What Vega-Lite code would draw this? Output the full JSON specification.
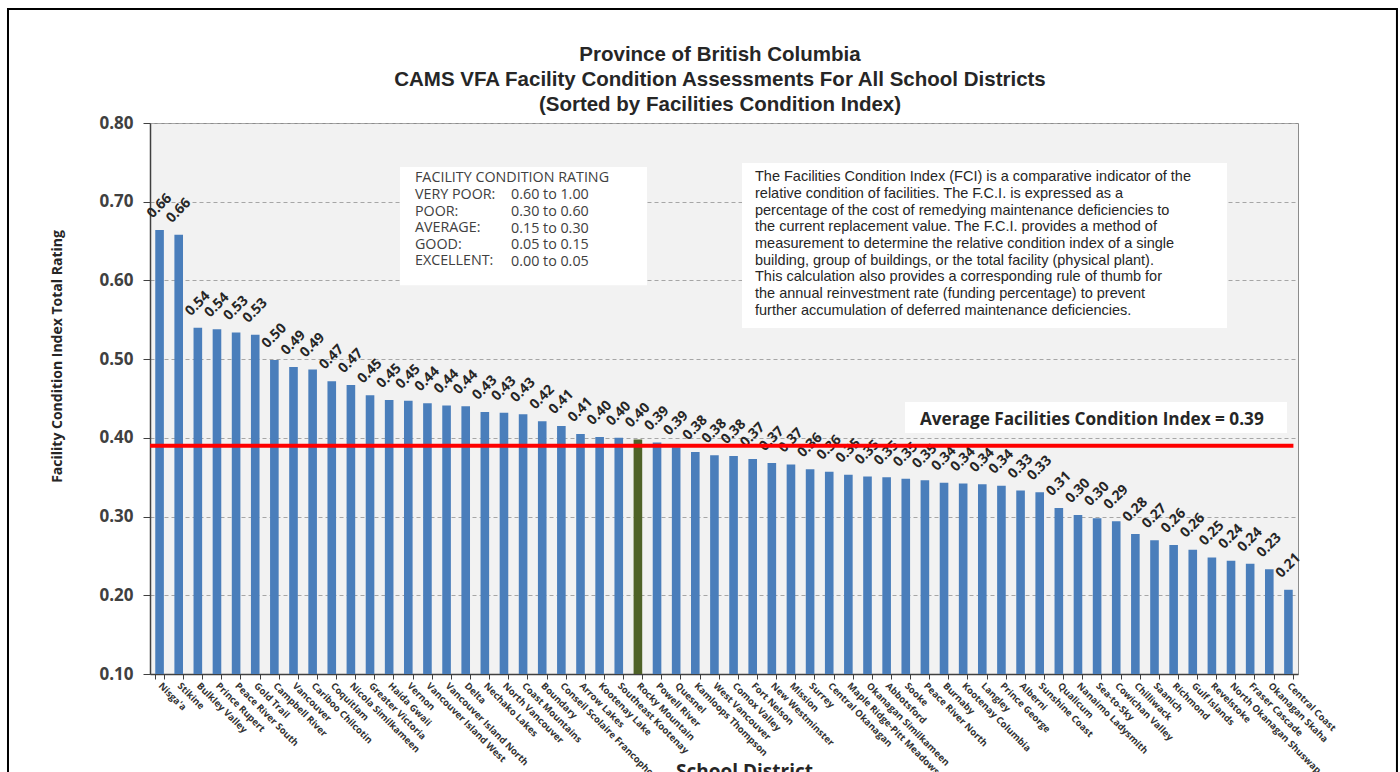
{
  "$schema": "https://vega.github.io/schema/vega-lite/v6.json",
  "autosize": {"type": "none"},
  "width": 1148,
  "height": 551,
  "padding": {"left": 150, "top": 123, "right": 102, "bottom": 98},
  "background": "white",
  "config": {
    "font": "Open Sans",
    "view": {"fill": "#f2f2f2", "stroke": "#8c8c8c", "strokeWidth": 1}
  },
  "datasets": {
    "fci": [
      {"district": "Nisga'a", "fci": 0.664},
      {"district": "Stikine", "fci": 0.658},
      {"district": "Bulkley Valley", "fci": 0.540},
      {"district": "Prince Rupert", "fci": 0.538},
      {"district": "Peace River South", "fci": 0.534},
      {"district": "Gold Trail", "fci": 0.531},
      {"district": "Campbell River", "fci": 0.499},
      {"district": "Vancouver", "fci": 0.490},
      {"district": "Cariboo Chilcotin", "fci": 0.487},
      {"district": "Coquitlam", "fci": 0.472},
      {"district": "Nicola Similkameen", "fci": 0.467},
      {"district": "Greater Victoria", "fci": 0.454},
      {"district": "Haida Gwaii", "fci": 0.448},
      {"district": "Vernon", "fci": 0.447},
      {"district": "Vancouver Island West", "fci": 0.444},
      {"district": "Vancouver Island North", "fci": 0.441},
      {"district": "Delta", "fci": 0.440},
      {"district": "Nechako Lakes", "fci": 0.433},
      {"district": "North Vancouver", "fci": 0.432},
      {"district": "Coast Mountains", "fci": 0.430},
      {"district": "Boundary", "fci": 0.421},
      {"district": "Conseil Scolaire Francophone", "fci": 0.415},
      {"district": "Arrow Lakes", "fci": 0.405},
      {"district": "Kootenay Lake", "fci": 0.401},
      {"district": "Southeast Kootenay", "fci": 0.400},
      {"district": "Rocky Mountain", "fci": 0.398},
      {"district": "Powell River", "fci": 0.394},
      {"district": "Quesnel", "fci": 0.388},
      {"district": "Kamloops Thompson", "fci": 0.382},
      {"district": "West Vancouver", "fci": 0.378},
      {"district": "Comox Valley", "fci": 0.377},
      {"district": "Fort Nelson", "fci": 0.373},
      {"district": "New Westminster", "fci": 0.368},
      {"district": "Mission", "fci": 0.366},
      {"district": "Surrey", "fci": 0.360},
      {"district": "Central Okanagan", "fci": 0.357},
      {"district": "Maple Ridge-Pitt Meadows", "fci": 0.353},
      {"district": "Okanagan Similkameen", "fci": 0.351},
      {"district": "Abbotsford", "fci": 0.350},
      {"district": "Sooke", "fci": 0.348},
      {"district": "Peace River North", "fci": 0.346},
      {"district": "Burnaby", "fci": 0.343},
      {"district": "Kootenay Columbia", "fci": 0.342},
      {"district": "Langley", "fci": 0.341},
      {"district": "Prince George", "fci": 0.339},
      {"district": "Alberni", "fci": 0.333},
      {"district": "Sunshine Coast", "fci": 0.331},
      {"district": "Qualicum", "fci": 0.311},
      {"district": "Nanaimo Ladysmith", "fci": 0.302},
      {"district": "Sea-to-Sky", "fci": 0.298},
      {"district": "Cowichan Valley", "fci": 0.294},
      {"district": "Chilliwack", "fci": 0.278},
      {"district": "Saanich", "fci": 0.270},
      {"district": "Richmond", "fci": 0.264},
      {"district": "Gulf Islands", "fci": 0.258},
      {"district": "Revelstoke", "fci": 0.248},
      {"district": "North Okanagan Shuswap", "fci": 0.244},
      {"district": "Fraser Cascade", "fci": 0.240},
      {"district": "Okanagan Skaha", "fci": 0.233},
      {"district": "Central Coast", "fci": 0.207}
    ],
    "note": [{"k": 1}]
  },
  "resolve": {"scale": {"x": "independent"}, "axis": {"x": "independent"}},
  "layer": [
    {
      "data": {"name": "fci"},
      "layer": [
        {
          "mark": {"type": "bar"},
          "encoding": {
            "x": {
              "field": "district", "type": "nominal", "sort": null,
              "scale": {"paddingInner": 0.55, "paddingOuter": 0.275},
              "axis": {
                "title": "School District", "titleFont": "Open Sans", "titleFontSize": 19, "titleFontWeight": "bold", "titleColor": "#262626",
                "titleX": 594, "titleY": 88, "titleBaseline": "top", "titleAnchor": "middle", "titleAlign": "center",
                "labelAngle": 45, "labelAlign": "left", "labelBaseline": "middle", "labelPadding": 5,
                "labelFont": "Open Sans", "labelFontSize": 9.5, "labelFontWeight": "bold", "labelColor": "#333333",
                "labelOverlap": false, "labelLimit": 300,
                "tickBand": "extent", "tickSize": 5, "tickColor": "#404040",
                "domainColor": "#404040", "domainWidth": 1.5
              }
            },
            "y": {
              "field": "fci", "type": "quantitative",
              "scale": {"domain": [0.1, 0.8], "zero": false, "nice": false},
              "axis": {
                "title": "Facility Condition Index Total Rating", "titleFont": "Open Sans", "titleFontSize": 14, "titleFontWeight": "bold", "titleColor": "#262626",
                "titlePadding": 34, "titleY": 233, "titleAlign": "center",
                "values": [0.1, 0.2, 0.3, 0.4, 0.5, 0.6, 0.7, 0.8], "format": ".2f",
                "labelFont": "Open Sans", "labelFontSize": 17, "labelFontWeight": "bold", "labelColor": "#404040", "labelPadding": 10,
                "tickSize": 7, "tickColor": "#404040", "domainColor": "#404040", "domainWidth": 1.5,
                "grid": true, "gridColor": "#a6a6a6", "gridDash": [4, 3], "gridWidth": 1
              }
            },
            "y2": {"datum": 0.1},
            "color": {
              "condition": {"test": "datum.district === 'Rocky Mountain'", "value": "#4f6228"},
              "value": "#4a7ebb"
            }
          }
        },
        {
          "mark": {"type": "text", "angle": 315, "align": "center", "baseline": "middle", "radius": 24, "theta": 0, "font": "Open Sans", "fontSize": 14, "fontWeight": "bold", "color": "#262626"},
          "encoding": {
            "x": {"field": "district", "type": "nominal", "sort": null},
            "y": {"field": "fci", "type": "quantitative", "scale": {"domain": [0.1, 0.8]}},
            "text": {"field": "fci", "type": "quantitative", "format": ".2f"}
          }
        }
      ]
    },
    {
      "data": {"name": "note"},
      "layer": [
        {
          "mark": {"type": "rule", "color": "#ff0000", "strokeWidth": 4},
          "encoding": {
            "x": {"datum": 0, "type": "quantitative", "scale": {"domain": [0, 1]}, "axis": null},
            "x2": {"datum": 0.996},
            "y": {"datum": 0.39, "type": "quantitative", "scale": {"domain": [0.1, 0.8]}}
          }
        },
        {
          "mark": {"type": "rect", "fill": "white"},
          "encoding": {
            "x": {"datum": 0.2178, "type": "quantitative", "scale": {"domain": [0, 1]}, "axis": null},
            "x2": {"datum": 0.4329},
            "y": {"datum": 0.744, "type": "quantitative", "scale": {"domain": [0.1, 0.8]}},
            "y2": {"datum": 0.594}
          }
        },
        {
          "mark": {"type": "text", "align": "left", "baseline": "top", "font": "Open Sans", "fontSize": 14.3, "lineHeight": 16.6, "color": "#404040",
            "text": ["FACILITY CONDITION RATING", "VERY POOR:", "POOR:", "AVERAGE:", "GOOD:", "EXCELLENT:"]},
          "encoding": {
            "x": {"datum": 0.2308, "type": "quantitative", "scale": {"domain": [0, 1]}, "axis": null},
            "y": {"datum": 0.7385, "type": "quantitative", "scale": {"domain": [0.1, 0.8]}}
          }
        },
        {
          "mark": {"type": "text", "align": "left", "baseline": "top", "font": "Open Sans", "fontSize": 14.3, "lineHeight": 16.6, "color": "#404040",
            "text": ["0.60 to 1.00", "0.30 to 0.60", "0.15 to 0.30", "0.05 to 0.15", "0.00 to 0.05"]},
          "encoding": {
            "x": {"datum": 0.3145, "type": "quantitative", "scale": {"domain": [0, 1]}, "axis": null},
            "y": {"datum": 0.7169, "type": "quantitative", "scale": {"domain": [0.1, 0.8]}}
          }
        },
        {
          "mark": {"type": "rect", "fill": "white"},
          "encoding": {
            "x": {"datum": 0.5157, "type": "quantitative", "scale": {"domain": [0, 1]}, "axis": null},
            "x2": {"datum": 0.9382},
            "y": {"datum": 0.7492, "type": "quantitative", "scale": {"domain": [0.1, 0.8]}},
            "y2": {"datum": 0.5395}
          }
        },
        {
          "mark": {"type": "text", "align": "left", "baseline": "top", "font": "Liberation Sans", "fontSize": 14.5, "lineHeight": 16.7, "color": "#262626",
            "text": [
              "The Facilities Condition Index (FCI) is a comparative indicator of the",
              "relative condition of facilities. The F.C.I. is expressed as a",
              "percentage of the cost of remedying maintenance deficiencies to",
              "the current replacement value. The F.C.I. provides a method of",
              "measurement to determine the relative condition index of a single",
              "building, group of buildings, or the total facility (physical plant).",
              "This calculation also provides a corresponding rule of thumb for",
              "the annual reinvestment rate (funding percentage) to prevent",
              "further accumulation of deferred maintenance deficiencies."
            ]},
          "encoding": {
            "x": {"datum": 0.527, "type": "quantitative", "scale": {"domain": [0, 1]}, "axis": null},
            "y": {"datum": 0.740, "type": "quantitative", "scale": {"domain": [0.1, 0.8]}}
          }
        },
        {
          "mark": {"type": "rect", "fill": "white"},
          "encoding": {
            "x": {"datum": 0.6577, "type": "quantitative", "scale": {"domain": [0, 1]}, "axis": null},
            "x2": {"datum": 0.9904},
            "y": {"datum": 0.4455, "type": "quantitative", "scale": {"domain": [0.1, 0.8]}},
            "y2": {"datum": 0.4061}
          }
        },
        {
          "mark": {"type": "text", "align": "left", "baseline": "middle", "font": "Open Sans", "fontSize": 17.2, "fontWeight": "bold", "color": "#262626",
            "text": "Average Facilities  Condition Index = 0.39"},
          "encoding": {
            "x": {"datum": 0.6707, "type": "quantitative", "scale": {"domain": [0, 1]}, "axis": null},
            "y": {"datum": 0.4226, "type": "quantitative", "scale": {"domain": [0.1, 0.8]}}
          }
        },
        {
          "mark": {"type": "text", "align": "center", "baseline": "middle", "font": "Liberation Sans", "fontSize": 20.5, "fontWeight": "bold", "lineHeight": 25, "color": "#262626",
            "text": ["Province of British Columbia", "CAMS VFA  Facility Condition Assessments For All School Districts", "(Sorted by Facilities Condition Index)"]},
          "encoding": {
            "x": {"datum": 0.4965, "type": "quantitative", "scale": {"domain": [0, 1]}, "axis": null},
            "y": {"datum": 0.8864, "type": "quantitative", "scale": {"domain": [0.1, 0.8]}}
          }
        },
        {
          "mark": {"type": "rect", "filled": false, "stroke": "black", "strokeWidth": 2},
          "encoding": {
            "x": {"datum": -0.1237, "type": "quantitative", "scale": {"domain": [0, 1]}, "axis": null},
            "x2": {"datum": 1.0862},
            "y": {"datum": 0.9449, "type": "quantitative", "scale": {"domain": [0.1, 0.8]}},
            "y2": {"datum": -0.05}
          }
        }
      ]
    }
  ]
}
